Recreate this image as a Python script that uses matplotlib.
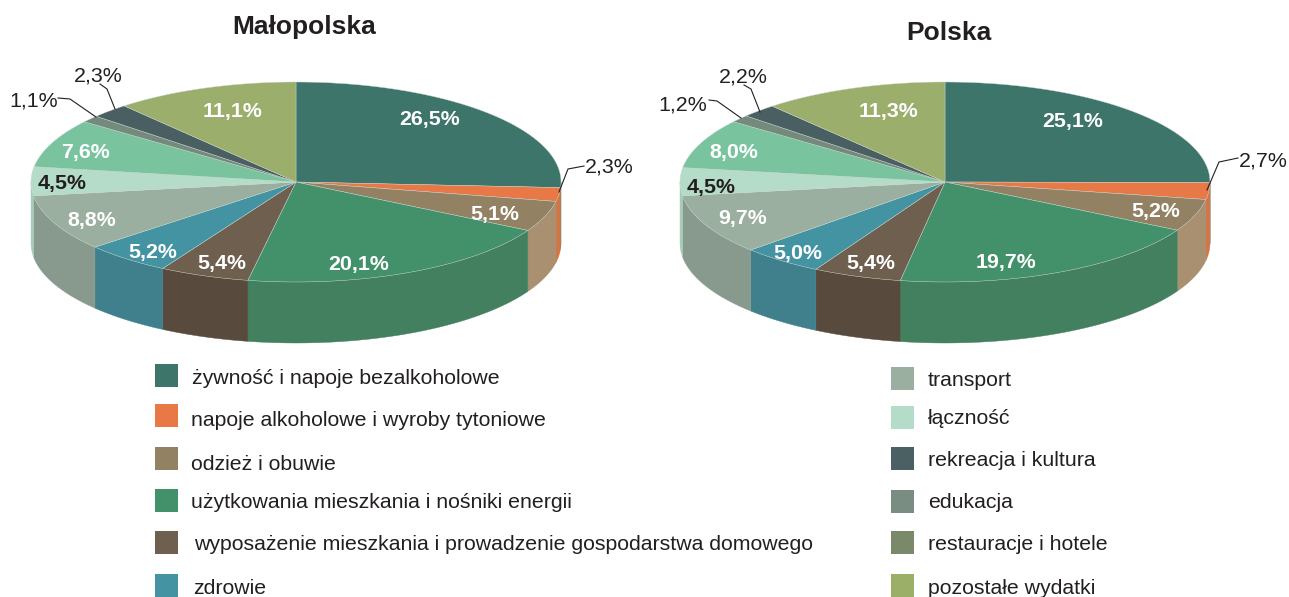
import numpy as np
import matplotlib
matplotlib.use("Agg")
import matplotlib.pyplot as plt
from matplotlib.patches import Rectangle

plt.rcParams['font.family'] = ['Liberation Sans', 'DejaVu Sans']

# ---- data ----
malopolska = [26.5, 2.3, 5.1, 20.1, 5.4, 5.2, 8.8, 4.5, 7.6, 1.1, 2.3, 11.1]
polska = [25.1, 2.7, 5.2, 19.7, 5.4, 5.0, 9.7, 4.5, 8.0, 1.2, 2.2, 11.3]
legend_left = ["żywność i napoje bezalkoholowe", "napoje alkoholowe i wyroby tytoniowe",
               "odzież i obuwie", "użytkowania mieszkania i nośniki energii",
               "wyposażenie mieszkania i prowadzenie gospodarstwa domowego", "zdrowie"]
legend_right = ["transport", "łączność", "rekreacja i kultura", "edukacja",
                "restauracje i hotele", "pozostałe wydatki"]

# ---- styles ----
top_colors = ['#3D756A', '#E87846', '#938164', '#43916B', '#6F5F4E', '#4393A3',
              '#9AAFA0', '#B5DCC8', '#79C49F', '#748A7C', '#4A5F62', '#9BAE6B']
wall_colors = ['#356A60', '#D07647', '#A89070', '#43805F', '#584A3C', '#40808C',
               '#889A8E', '#A5CDB8', '#6FB38F', '#6A7D70', '#435659', '#8C9E60']
legend_left_colors = ['#3D756A', '#E87846', '#938164', '#43916B', '#6F5F4E', '#4393A3']
legend_right_colors = ['#9AAFA0', '#B5DCC8', '#4A6063', '#7A8D82', '#79896A', '#9CAF69']
INK = '#231F20'
RX, RY, DEPTH = 265, 100, 61

fig = plt.figure(figsize=(12.89, 5.97), dpi=100)
ax = fig.add_axes([0, 0, 1, 1])
ax.set_xlim(0, 1289)
ax.set_ylim(597, 0)
ax.axis('off')


def point(cx, cy, deg, dy=0):
    t = np.radians(deg)
    return cx + RX * np.sin(t), cy - RY * np.cos(t) + dy


def pie3d(values, cx, cy, skew):
    edges = np.cumsum([0] + list(values)) / sum(values) * 360
    # the source artwork's ellipse is slightly distorted; skew imitates this
    edges = edges - skew * np.sin(np.radians(edges) / 2) ** 2
    for i in range(len(values)):
        a, b = max(edges[i], 90), min(edges[i + 1], 270)
        if b > a:
            t = np.linspace(a, b, 60)
            x1, y1 = point(cx, cy, t)
            x2, y2 = point(cx, cy, t[::-1], DEPTH)
            ax.fill(np.r_[x1, x2], np.r_[y1, y2], color=wall_colors[i], lw=0.3, zorder=2)
    for i in range(len(values)):
        t = np.linspace(edges[i], edges[i + 1], 80)
        x, y = point(cx, cy, t)
        ax.fill(np.r_[cx, x], np.r_[cy, y], facecolor=top_colors[i],
                edgecolor='#C8D6CC', lw=0.3, zorder=3)


def labels(values, positions, dark=(7,)):
    outside = (1, 9, 10)
    for i, (v, (x, y)) in enumerate(zip(values, positions)):
        s = f"{v:.1f}%".replace('.', ',')
        if i in outside:
            ax.text(x, y + 1, s, fontsize=15.4, color=INK, ha='center', va='center', zorder=5)
        else:
            ax.text(x, y + 1.5, s, fontsize=15.4, fontweight='bold', ha='center', va='center',
                    zorder=5, color=INK if i in dark else 'white')


pie3d(malopolska, 296, 182, 4)
pie3d(polska, 945, 182, 0)

labels(malopolska, [(430, 118), (609, 166), (495, 213), (359, 263), (222, 262), (153, 251),
                    (92, 219), (62, 182), (86, 151), (34, 100), (98, 75), (233, 110)])
labels(polska, [(1073, 120), (1263, 160), (1156, 210), (1006, 261), (871, 262), (798, 252),
                (743, 217), (711, 186), (734, 151), (683, 104), (743, 76), (889, 110)])

for xs, ys in [([559, 568, 584], [192, 169, 166]),
               ([58, 70, 96], [98, 99, 117]),
               ([100, 107, 115], [84, 89, 109]),
               ([1207, 1219, 1238], [190, 162, 158]),
               ([709, 717, 741], [100, 101, 118]),
               ([744, 751, 760], [85, 89, 112])]:
    ax.plot(xs, ys, color=INK, lw=0.8, zorder=6, solid_joinstyle='round')

ax.text(304, 27, "Małopolska", fontsize=19, fontweight='bold', color=INK, ha='center', va='center')
ax.text(949, 33, "Polska", fontsize=19, fontweight='bold', color=INK, ha='center', va='center')

for names, cols, sx, tops, tx, tys in [
    (legend_left, legend_left_colors, 155, [364, 404, 447, 489, 531, 574],
     [192, 191, 191, 191, 194, 193], [379, 420, 464, 503, 545, 588]),
    (legend_right, legend_right_colors, 891, [367, 406, 447, 490, 531, 574],
     [928] * 6, [380, 419, 461, 503, 545, 588]),
]:
    for n, c, t, x, y in zip(names, cols, tops, tx, tys):
        ax.add_patch(Rectangle((sx, t), 23, 23, facecolor=c, edgecolor='none'))
        ax.text(x, y, n, fontsize=15.35, color=INK, ha='left', va='center')

fig.savefig("out.png", dpi=100)
